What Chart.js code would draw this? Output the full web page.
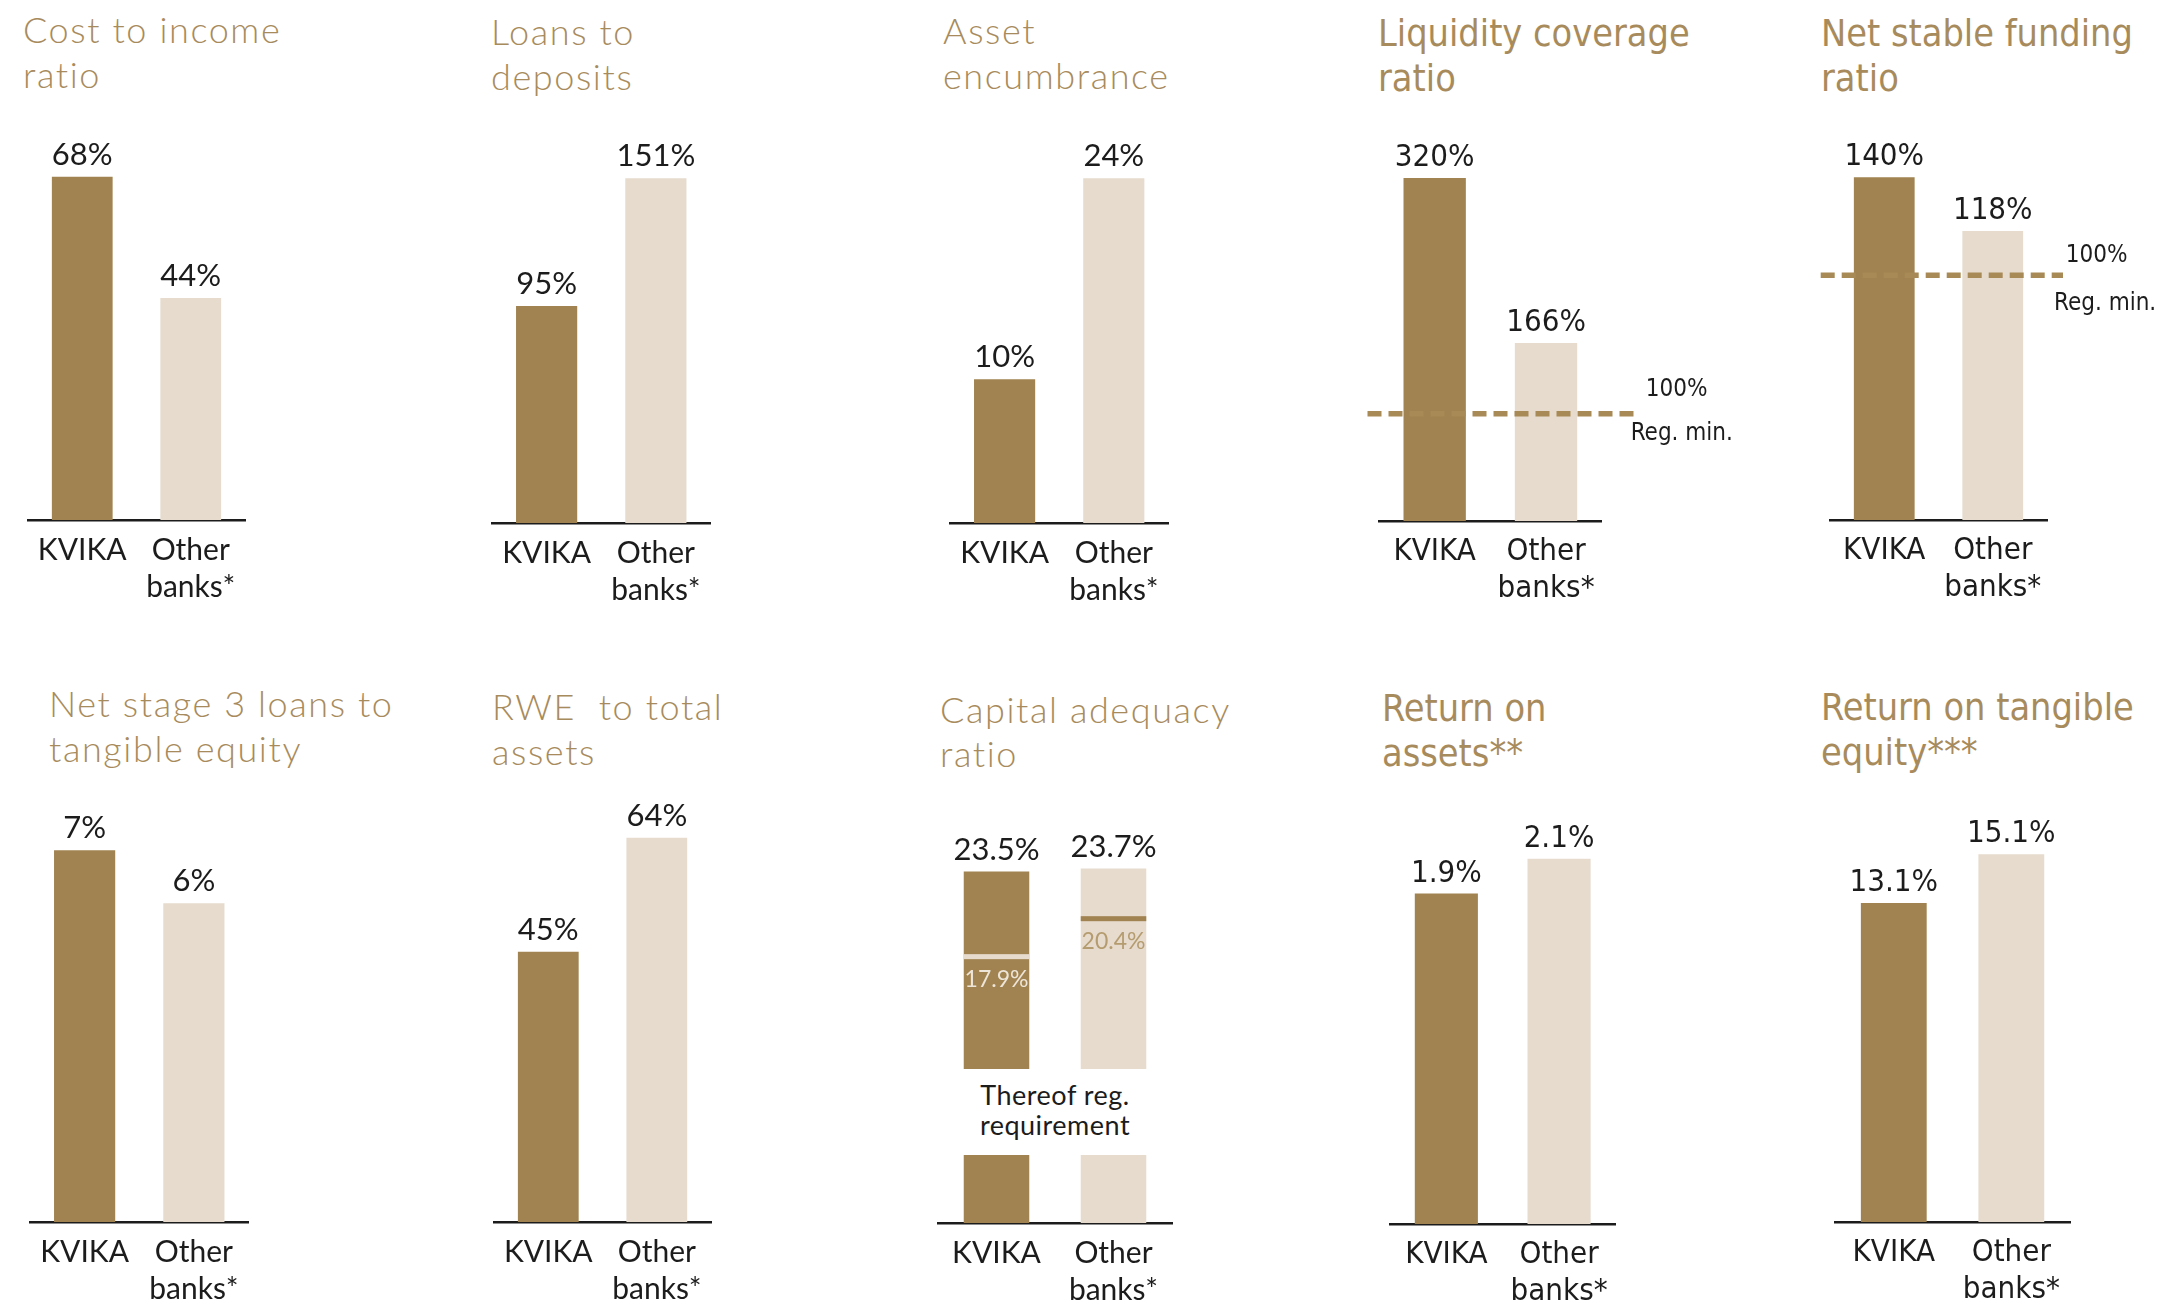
<!DOCTYPE html>
<html>
<head>
<meta charset="utf-8">
<title>KVIKA vs other banks</title>
<script src="https://cdn.jsdelivr.net/npm/chart.js@4.4.1/dist/chart.umd.min.js"></script>
<style>
  html, body { margin: 0; padding: 0; background: #fff; }
  body { width: 2168px; height: 1307px; position: relative; overflow: hidden; }
  .title {
    position: absolute; color: #a88b5c; font-family: Lato, sans-serif; font-weight: 300;
    font-size: 36px; line-height: 44.5px; white-space: pre; letter-spacing: 1.6px;
  }
  .title.cond {
    font-family: 'DejaVu Sans Condensed', 'DejaVu Sans', sans-serif; font-weight: 400;
    font-stretch: condensed; font-size: 37.5px; letter-spacing: 0;
  }
  .note {
    position: absolute; width: 300px; text-align: center; color: #1c1c1c;
    font-family: Lato, sans-serif; font-size: 27px; line-height: 30px; letter-spacing: 0.5px;
  }
  canvas { position: absolute; }
</style>
</head>
<body>
<div class="note" style="left:905px; top:1080px;">Thereof reg.<br>requirement</div>
<script>
const categories = [["KVIKA"], ["Other", "banks*"]];

const costToIncome = [68, 44];
const loansToDeposits = [95, 151];
const assetEncumbrance = [10, 24];
const liquidityCoverage = [320, 166];
const netStableFunding = [140, 118];
const netStage3Loans = [7, 6];
const rweToAssets = [45, 64];
const capitalAdequacy = [23.5, 23.7];
const capitalRequirement = [17.9, 20.4];
const returnOnAssets = [1.9, 2.1];
const returnOnTangibleEquity = [13.1, 15.1];
const regMinimum = 100;

const DARK = "#a08350";
const LIGHT = "#e6dbcd";
const INK = "#1c1c1c";
const LATO = "Lato, sans-serif";
const COND = "'DejaVu Sans Condensed', 'DejaVu Sans', sans-serif";

const panels = [
  { title: ["Cost to income", "ratio"], values: costToIncome, tx: 23, ty: 43,
    left: 28, right: 245, top: 140, bottom: 520, max: 75.3 },
  { title: ["Loans to", "deposits"], values: loansToDeposits, tx: 491, ty: 45,
    left: 492.2, right: 710.7, top: 140, bottom: 522.6, max: 167.7 },
  { title: ["Asset", "encumbrance"], values: assetEncumbrance, tx: 943, ty: 44,
    left: 950, right: 1168.4, top: 140, bottom: 522.6, max: 26.66 },
  { title: ["Liquidity coverage", "ratio"], values: liquidityCoverage, tx: 1378, ty: 46, cond: true,
    left: 1378.5, right: 1601.2, top: 140, bottom: 521, max: 355.4,
    reg: { from: -11.5, to: 32, valueX: 44, valueDy: -18, noteX: 29, noteDy: 26 } },
  { title: ["Net stable funding", "ratio"], values: netStableFunding, tx: 1821, ty: 46, cond: true,
    left: 1830, right: 2047, top: 140, bottom: 520, max: 155.2,
    reg: { from: -9.3, to: 16, valueX: 18.7, valueDy: -13, noteX: 7, noteDy: 35 } },
  { title: ["Net stage 3 loans to", "tangible equity"], values: netStage3Loans, tx: 49, ty: 717,
    left: 30.4, right: 248.9, top: 800, bottom: 1222.3, max: 7.945 },
  { title: ["RWE  to total", "assets"], values: rweToAssets, tx: 492, ty: 720,
    left: 493.6, right: 710.7, top: 800, bottom: 1222.3, max: 70.27 },
  { title: ["Return on", "assets**"], values: returnOnAssets, tx: 1382, ty: 721, cond: true,
    left: 1389.6, right: 1615, top: 800, bottom: 1223.7, max: 2.438 },
  { title: ["Return on tangible", "equity***"], values: returnOnTangibleEquity, tx: 1821, ty: 720, cond: true,
    left: 1834.8, right: 2069.9, top: 800, bottom: 1222.3, max: 17.33 }
];

const valueLabels = {
  id: "valueLabels",
  afterDatasetsDraw(chart, args, opts) {
    if (!opts.display) return;
    const ctx = chart.ctx;
    const values = chart.data.datasets[0].data;
    ctx.save();
    ctx.font = opts.font;
    ctx.fillStyle = INK;
    ctx.textAlign = "center";
    ctx.textBaseline = "alphabetic";
    chart.getDatasetMeta(0).data.forEach((bar, i) => {
      ctx.fillText(values[i] + "%", bar.x, bar.y - 12);
    });
    ctx.restore();
  }
};

const regLine = {
  id: "regLine",
  afterDatasetsDraw(chart, args, opts) {
    if (!opts.value) return;
    const ctx = chart.ctx;
    const a = chart.chartArea;
    const py = chart.scales.y.getPixelForValue(opts.value);
    ctx.save();
    ctx.strokeStyle = "#a88a57";
    ctx.lineWidth = 5.5;
    ctx.setLineDash([14, 7]);
    ctx.beginPath();
    ctx.moveTo(a.left + opts.from, py);
    ctx.lineTo(a.right + opts.to, py);
    ctx.stroke();
    ctx.setLineDash([]);
    ctx.fillStyle = INK;
    ctx.font = "24px " + COND;
    ctx.textAlign = "left";
    ctx.fillText(opts.value + "%", a.right + opts.valueX, py + opts.valueDy);
    ctx.fillText("Reg. min.", a.right + opts.noteX, py + opts.noteDy);
    ctx.restore();
  }
};

const reqMarks = {
  id: "reqMarks",
  afterDatasetsDraw(chart, args, opts) {
    if (!opts.values) return;
    const ctx = chart.ctx;
    const y = chart.scales.y;
    ctx.save();
    ctx.font = "23px " + LATO;
    ctx.textAlign = "center";
    chart.getDatasetMeta(0).data.forEach((bar, i) => {
      const py = y.getPixelForValue(opts.values[i]);
      ctx.fillStyle = opts.lineColors[i];
      ctx.fillRect(bar.x - bar.width / 2, py - 2.5, bar.width, 5);
      ctx.fillStyle = opts.textColors[i];
      ctx.fillText(opts.values[i] + "%", bar.x, py + 30);
    });
    ctx.restore();
  }
};

function addTitle(p) {
  const d = document.createElement("div");
  d.className = p.cond ? "title cond" : "title";
  d.textContent = p.title.join("\n");
  d.style.left = p.tx + "px";
  d.style.top = (p.ty - (p.cond ? 35 : 36)) + "px";
  document.body.appendChild(d);
}

function makeChart(p, values, showAxis, showValues, extra) {
  const padL = 40, padR = 170, padT = 75, axisH = 100;
  const w = p.right - p.left + padL + padR;
  const h = padT + (p.bottom - p.top) + (showAxis ? axisH : 0);
  const cv = document.createElement("canvas");
  cv.width = Math.round(w);
  cv.height = Math.round(h);
  cv.style.left = (p.left - padL) + "px";
  cv.style.top = (p.top - padT) + "px";
  document.body.appendChild(cv);
  const fam = p.cond ? COND : LATO;

  const xScale = {
    display: showAxis,
    grid: { display: false, drawTicks: false },
    border: { display: true, color: INK, width: 2.5 },
    ticks: {
      color: INK,
      padding: 12,
      maxRotation: 0,
      autoSkip: false,
      font: { family: fam, size: p.cond ? 31 : 30, lineHeight: p.cond ? 1.2 : 1.24 }
    }
  };
  if (showAxis) xScale.afterFit = (s) => { s.height = axisH; };

  return new Chart(cv, {
    type: "bar",
    data: {
      labels: categories,
      datasets: [{
        data: values,
        backgroundColor: [DARK, LIGHT],
        barPercentage: 0.56,
        categoryPercentage: 1,
        clip: 0
      }]
    },
    options: {
      responsive: false,
      maintainAspectRatio: false,
      animation: false,
      devicePixelRatio: 1,
      layout: { padding: { left: padL, right: cv.width - padL - (p.right - p.left), top: padT, bottom: 0 } },
      plugins: {
        legend: { display: false },
        tooltip: { enabled: false },
        valueLabels: { display: showValues, font: "31px " + fam },
        regLine: extra.reg || {},
        reqMarks: extra.req || {}
      },
      scales: {
        x: xScale,
        y: { display: false, min: p.min || 0, max: p.max }
      }
    },
    plugins: [valueLabels, regLine, reqMarks]
  });
}

panels.forEach((p) => {
  addTitle(p);
  const reg = p.reg ? Object.assign({ value: regMinimum }, p.reg) : null;
  makeChart(p, p.values, true, true, { reg: reg });
});

// capital adequacy: broken axis, drawn as an upper and a lower part
addTitle({ title: ["Capital adequacy", "ratio"], tx: 940, ty: 722.5 });
makeChart({ left: 938.3, right: 1172.3, top: 820, bottom: 1069.3, min: 10.5, max: 26.9 },
  capitalAdequacy, false, true,
  { req: { values: capitalRequirement, lineColors: [LIGHT, DARK], textColors: ["#eee5d9", "#b59c70"] } });
makeChart({ left: 938.3, right: 1172.3, top: 1155, bottom: 1222.7, min: 0, max: 4.45 },
  capitalAdequacy, true, false, {});
</script>
</body>
</html>
